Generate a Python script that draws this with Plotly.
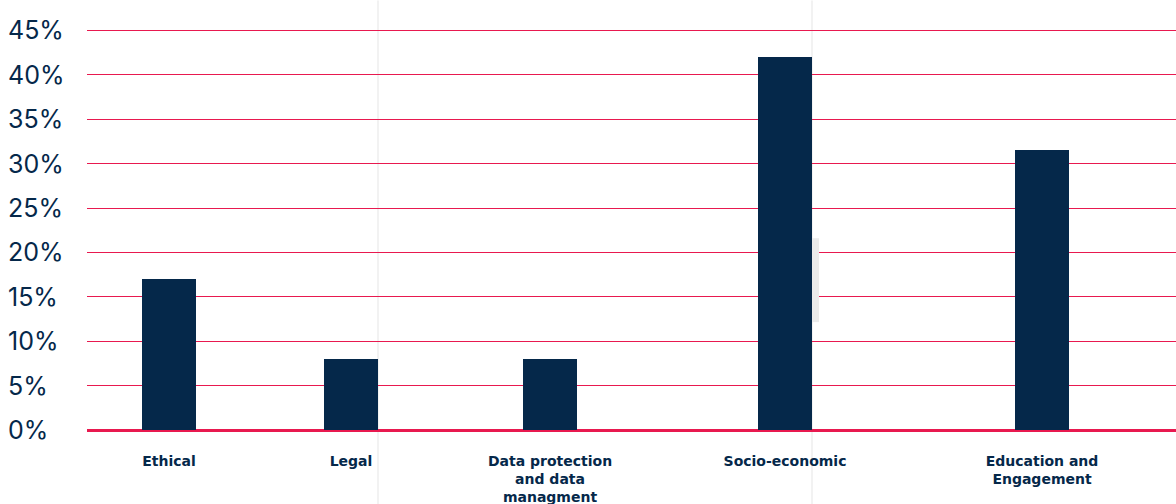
import plotly.graph_objects as go

categories = ["Ethical", "Legal", "Data protection<br>and data<br>managment", "Socio-economic", "Education and<br>Engagement"]
values = [17, 8, 8, 42, 31.5]
y_ticks = [0, 5, 10, 15, 20, 25, 30, 35, 40, 45]
y_tick_labels = [f"{v}%" for v in y_ticks]

# layout positions (axis units) of the category slots
positions = [82, 264, 463, 698, 955]

NAVY = "#05284a"
RED = "#e8194f"

PLOT_H = 400 * 45.5 / 45  # pixels for range 0..45.5 so 45 sits at y=30
TOP = 430 - PLOT_H

fig = go.Figure()
fig.add_trace(go.Bar(x=positions, y=values, width=54, marker_color=NAVY,
                     marker_line_width=0, hoverinfo="skip"))

fig.update_layout(
    width=1176, height=504,
    margin=dict(l=87, r=0, t=TOP, b=74),
    paper_bgcolor="white", plot_bgcolor="white",
    showlegend=False,
    bargap=0,
    font=dict(family="Open Sans, sans-serif", color=NAVY),
)
fig.update_xaxes(range=[0, 1089], tickvals=positions, ticktext=categories,
                 showgrid=False, zeroline=False, showline=False, ticks="",
                 tickfont=dict(size=14, color=NAVY, weight="bold", family="DejaVu Sans, sans-serif"),
                 ticklabelstandoff=21, automargin=False, fixedrange=True)
fig.update_yaxes(range=[0, 45.5], tickvals=y_ticks, showticklabels=False,
                 showgrid=True, gridcolor=RED, gridwidth=1,
                 zeroline=True, zerolinecolor=RED, zerolinewidth=3,
                 showline=False, ticks="", automargin=False, fixedrange=True)

# left-aligned y tick labels
for v, t in zip(y_ticks, y_tick_labels):
    fig.add_annotation(x=0, xref="paper", xshift=-81, y=v, yref="y", text=t,
                       showarrow=False, xanchor="left", yanchor="middle",
                       font=dict(size=25, color=NAVY, family="Inter, sans-serif"))

# faint separators present in the original screenshot
H = PLOT_H
for xp in [378, 812]:
    fig.add_shape(type="line", xref="paper", yref="paper",
                  x0=(xp - 87) / 1089, x1=(xp - 87) / 1089, y0=-74 / H, y1=1 + TOP / H,
                  line=dict(color="#f2f2f2", width=2), layer="below")
fig.add_shape(type="rect", xref="paper", yref="paper",
              x0=(812 - 87) / 1089, x1=(819 - 87) / 1089,
              y0=(430 - 322) / H, y1=(430 - 238) / H,
              fillcolor="#ebebeb", line_width=0, layer="above")

fig.write_html("out.html")
